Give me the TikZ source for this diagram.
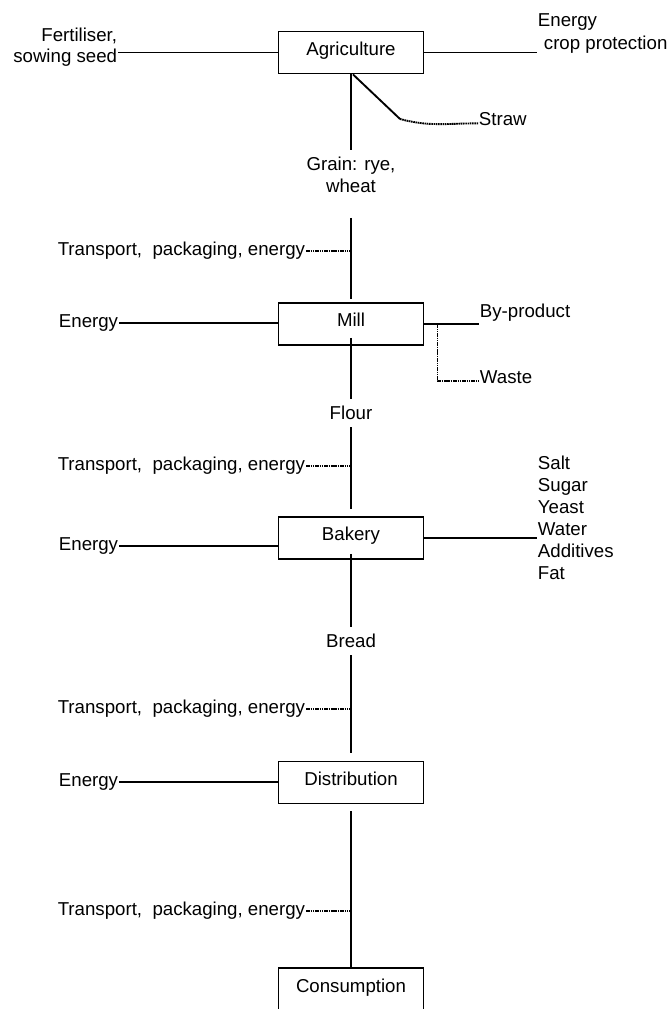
\documentclass[tikz,border=0pt]{standalone}
\usepackage{fontspec}
\setmainfont{Liberation Sans}
\usetikzlibrary{calc,positioning}

\tikzset{
  stage/.style={draw,minimum width=108.75pt,minimum height=31.5pt,inner sep=0pt,text height=10pt,text depth=6pt},
  flowlabel/.style={inner sep=5pt,align=center},
  sidelabel/.style={inner sep=0pt},
  fineline/.style={dash pattern=on 1.2pt off 0.5pt},
}

\begin{document}
\begin{tikzpicture}[x=0.75pt,y=-0.75pt,line width=1.4pt,font=\fontsize{14}{16.5}\selectfont]
  \useasboundingbox (0,0) rectangle (670,1009);
  \clip (0,0) rectangle (670,1009);

  % stages of the chain
  \node[stage] (agri) at (351,52.5) {Agriculture};
  \node[stage] (mill) at (351,324) {Mill};
  \node[stage] (bakery) at (351,538) {Bakery};
  \node[stage] (distr) at (351,782.5) {Distribution};
  \node[stage,anchor=north,minimum height=44pt,text depth=16.5pt] (consum) at (351,967) {Consumption};

  % products between stages
  \node[flowlabel] (grain) at (351,175) {Grain: rye,\\wheat};
  \node[flowlabel] (flour) at (351,413) {Flour};
  \node[flowlabel] (bread) at (351,641) {Bread};

  \draw (agri.south) -- (grain.north);
  \draw[shorten <=13pt,shorten >=2.25pt] (grain.south) -- (mill.north);
  \draw ([yshift=6pt]mill.south) -- (flour.north);
  \draw[shorten >=5.25pt] (flour.south) -- (bakery.north);
  \draw ([yshift=4.5pt]bakery.south) -- (bread.north);
  \draw[shorten >=6pt] (bread.south) -- (distr.north);
  \draw[shorten <=5.25pt] (distr.south) -- (consum.north);

  % agriculture inputs and outputs
  \node[sidelabel,anchor=east,align=right] (fert) at (118,47.6) {Fertiliser,\\[-0.75pt]sowing seed};
  \node[sidelabel,anchor=west,align=left] (crop) at (537,33.7) {Energy\\[0.75pt]\hspace*{4.5pt}crop protection};
  \draw (agri.west) -- (agri.west -| fert.east);
  \draw (agri.east) -- (agri.east -| crop.west);
  \coordinate (bend) at (400,119);
  \node[sidelabel,anchor=base west] (straw) at (478,126) {Straw};
  \draw ([xshift=1.5pt]agri.south) -- (bend);
  \draw[fineline] (bend) to[out=-15,in=180] ([yshift=2pt]straw.base west);

  % transport between stages
  \foreach \n/\y in {tpa/251,tpb/466,tpc/709,tpd/911} {
    \node[sidelabel,anchor=east] (\n) at (306,\y) {Transport,\ \ packaging, energy};
    \draw[fineline] (\n.east) -- (\n.east -| agri.south);
  }

  % energy inputs
  \node[sidelabel,anchor=east] (enmill) at (119,323) {Energy};
  \node[sidelabel,anchor=east] (enbake) at (119,546) {Energy};
  \node[sidelabel,anchor=east] (endist) at (119,782) {Energy};
  \draw (enmill.east) -- (enmill.east -| mill.west);
  \draw (enbake.east) -- (enbake.east -| bakery.west);
  \draw (endist.east) -- (endist.east -| distr.west);

  % mill outputs
  \node[sidelabel,anchor=base west] (byprod) at (479,317) {By-product};
  \node[sidelabel,anchor=base west] (waste) at (479,383) {Waste};
  \draw (mill.east) -- (mill.east -| byprod.west);
  \draw[fineline] ($(mill.east)+(13,0)$) |- ([yshift=1.5pt]waste.base west);

  % bakery ingredients
  \node[sidelabel,anchor=north west,align=left] (ingr) at (537,455.5) {Salt\\Sugar\\Yeast\\Water\\Additives\\Fat};
  \draw (bakery.east) -- (bakery.east -| ingr.west);
\end{tikzpicture}
\end{document}
